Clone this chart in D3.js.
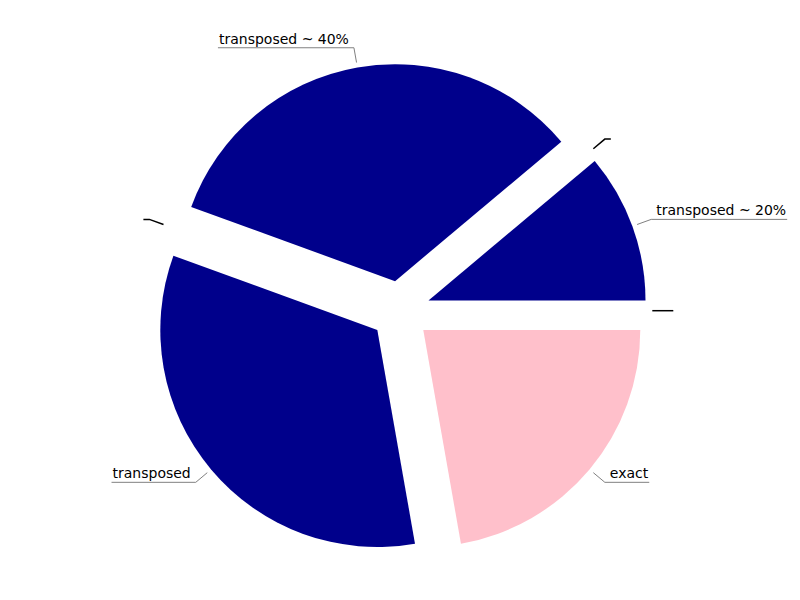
<!DOCTYPE html>
<html>
<head>
<meta charset="utf-8">
<script src="https://cdn.jsdelivr.net/npm/d3@7"></script>
<style>
  html, body { margin: 0; padding: 0; background: #fff; }
  svg { display: block; }
</style>
</head>
<body>
<svg id="chart" width="800" height="600"></svg>
<script>
// Data (counter-clockwise from 3 o'clock)
const labels = ["", "transposed ~ 20%", "", "transposed ~ 40%", "", "transposed", "exact"];
const values = [0, 1, 0, 3, 0, 3, 2];
const colors = ["#00008b", "#00008b", "#00008b", "#00008b", "#00008b", "#00008b", "#ffc0cb"];

const W = 800, H = 600;
const cx = 400.3, cy = 310.7;
const R = 217;
const explode = 30;

const svg = d3.select("#chart");
const g = svg.append("g").attr("transform", `translate(${cx},${cy})`);

const data = labels.map((l, i) => ({ label: l, value: values[i], color: colors[i] }));

const pie = d3.pie()
  .value(d => d.value)
  .sort(null)
  .startAngle(Math.PI / 2)
  .endAngle(Math.PI / 2 - 2 * Math.PI);

const arcs = pie(data);
const arc = d3.arc().innerRadius(0).outerRadius(R);

// d3 angle (clockwise from 12 o'clock) -> unit vector in screen coords
function dir(a) { return [Math.sin(a), -Math.cos(a)]; }

g.selectAll("path.slice")
  .data(arcs.filter(d => d.value > 0))
  .join("path")
  .attr("class", "slice")
  .attr("d", arc)
  .attr("fill", d => d.data.color)
  .attr("transform", d => {
    const m = (d.startAngle + d.endAngle) / 2;
    const [ux, uy] = dir(m);
    return `translate(${ux * explode},${uy * explode})`;
  });

// Leader lines and labels
const r1 = R + 35, r2 = R + 50;
arcs.forEach(d => {
  const m = (d.startAngle + d.endAngle) / 2;
  const [ux, uy] = dir(m);
  const p1 = [ux * r1, uy * r1];
  const p2 = [ux * r2, uy * r2];
  const right = ux >= -1e-9;
  const side = right ? 1 : -1;
  const empty = d.data.label === "";
  let tw = 0;
  if (!empty) {
    const t = g.append("text")
      .attr("x", p2[0] + side * 5)
      .attr("y", p2[1] - 4)
      .attr("text-anchor", right ? "start" : "end")
      .attr("font-family", "DejaVu Sans, sans-serif")
      .attr("font-size", 14)
      .attr("fill", "#000")
      .text(d.data.label);
    tw = t.node().getComputedTextLength();
  }
  const p3 = [p2[0] + side * (tw + 6), p2[1]];
  g.append("path")
    .attr("d", d3.line()([p1, p2, p3]))
    .attr("fill", "none")
    .attr("stroke", empty ? "#000" : "#808080")
    .attr("stroke-width", empty ? 1.5 : 1);
});
</script>
</body>
</html>
